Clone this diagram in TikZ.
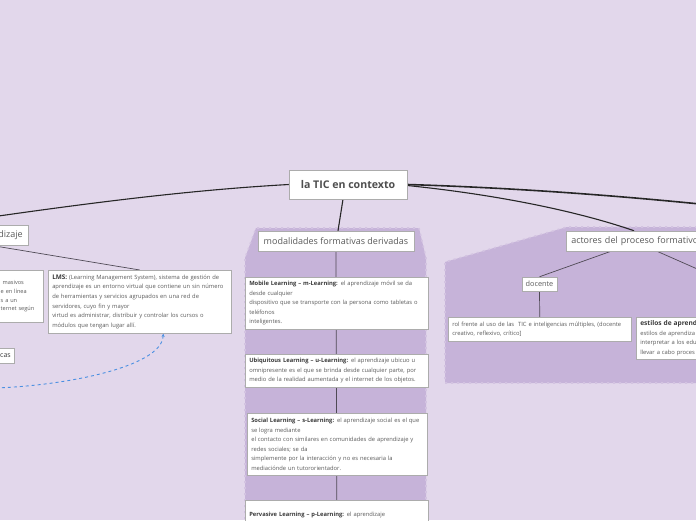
\documentclass[tikz,border=0pt]{standalone}
\usepackage{fontspec}
\setmainfont{Open Sans}
\usetikzlibrary{shadows,arrows.meta}
\definecolor{bgc}{HTML}{E2D7EB}
\definecolor{regc}{HTML}{C6B3D9}
\definecolor{txt}{HTML}{5A5A5A}
\definecolor{txtb}{HTML}{3A3A3A}
\definecolor{lnc}{HTML}{4F4A55}
\definecolor{blu}{HTML}{4A8FE2}
\pgfdeclarelayer{bg}
\pgfdeclarelayer{lines}
\pgfsetlayers{bg,lines,main}
\begin{document}
\begin{tikzpicture}[x=1pt,y=-1pt,
  box/.style={draw=gray!65, fill=white, line width=0.5pt,
    drop shadow={shadow xshift=0.7pt, shadow yshift=-0.9pt, opacity=0.35},
    inner xsep=5pt, inner ysep=3pt, text=txt},
  notebox/.style={box, anchor=north west, align=left, inner xsep=4pt,
    font=\fontsize{5.8}{9.6}\selectfont},
  topicbox/.style={box, font=\fontsize{9}{10}\selectfont, minimum height=20pt, inner ysep=0pt},
  conn/.style={draw=lnc, line width=0.7pt},
  rootconn/.style={draw=black!85, line width=1.1pt},
  region/.style={fill=regc},
  regionedge/.style={draw=regc!55!bgc, line width=1.6pt, dash pattern=on 2pt off 4pt}
]
\useasboundingbox (0,0) rectangle (696,520);
\begin{pgfonlayer}{bg}
  \fill[bgc] (0,0) rectangle (696,520);
  \path[region] (245,525) -- (245,258) -- (256,228) -- (419,228) -- (426,258) -- (426,525) -- cycle;
  \path[regionedge] (245,525) -- (245,258) -- (256,228) -- (419,228) -- (426,258) -- (426,525);
  \path[region] (445,383) -- (445,262) -- (567,227) -- (705,227) -- (705,383) -- cycle;
  \path[regionedge] (705,383) -- (445,383) -- (445,262) -- (567,227) -- (705,227);
\end{pgfonlayer}

% root
\node[box, font=\bfseries\fontsize{10.6}{12}\selectfont, text=txtb!90, minimum width=118pt, minimum height=29pt, inner sep=0pt] (root) at (348,184.5) {la TIC en contexto};

% left side
\node[topicbox, anchor=east] (apr) at (28,235) {dizaje};
\node[box, anchor=east, font=\fontsize{7}{8}\selectfont, text=txtb, minimum height=15pt, inner ysep=0pt, inner xsep=3pt] (cas) at (14,356) {cas};
\node[notebox, anchor=north east, text width=40pt, inner xsep=2pt, minimum height=52pt, font=\fontsize{5.6}{8.8}\selectfont] (mooc) at (43,270)
  {\ masivos\\e en línea\\s a un\\ternet según};
\node[notebox, text width=175pt, minimum height=63pt] (lms) at (48,270)
  {{\bfseries\fontsize{6.4}{9.6}\selectfont\color{txtb}LMS:} (Learning Management System), sistema de gestión de\\
   aprendizaje es un entorno virtual que contiene un sin número\\
   de herramientas y servicios agrupados en una red de\\
   servidores, cuyo fin y mayor\\
   virtud es administrar, distribuir y controlar los cursos o\\
   módulos que tengan lugar allí.};

% middle
\node[topicbox, minimum width=156pt] (mod) at (336,241) {modalidades formativas derivadas};
\node[notebox, text width=175pt, minimum height=52pt] (mob) at (245,277)
  {{\bfseries\color{txtb}Mobile Learning – m-Learning:} el aprendizaje móvil se da\\
   desde cualquier\\
   dispositivo que se transporte con la persona como tabletas o\\
   teléfonos\\
   inteligentes.};
\node[notebox, text width=175pt, minimum height=33pt] (ubi) at (245,354)
  {{\bfseries\color{txtb}Ubiquitous Learning – u-Learning:} el aprendizaje ubicuo u\\
   omnipresente es el que se brinda desde cualquier parte, por\\
   medio de la realidad aumentada y el internet de los objetos.};
\node[notebox, text width=172pt, minimum height=62pt] (soc) at (247,413)
  {{\bfseries\color{txtb}Social Learning – s-Learning:} el aprendizaje social es el que\\
   se logra mediante\\
   el contacto con similares en comunidades de aprendizaje y\\
   redes sociales; se da\\
   simplemente por la interacción y no es necesaria la\\
   mediaciónde un tutororientador.};
\node[notebox, text width=175pt, minimum height=40pt] (per) at (245,500)
  {{\bfseries\color{txtb}Pervasive Learning – p-Learning:} el aprendizaje\\
   personalizado le brinda};

% right
\node[topicbox, anchor=west, minimum width=160pt, align=left, text width=150pt] (act) at (566,241) {actores del proceso formativo};
\node[box, font=\fontsize{7.3}{8}\selectfont, minimum width=35pt, minimum height=14pt, inner sep=0pt] (doc) at (539.5,284) {docente};
\node[notebox, text width=175pt, minimum height=24pt] (rol) at (448,317)
  {rol frente al uso de las\ \ TIC e inteligencias múltiples, (docente\\
   creativo, reflexivo, crítico]};
\node[notebox, text width=90pt, minimum height=42pt] (est) at (636,317)
  {{\bfseries\fontsize{6.6}{9.6}\selectfont\color{txtb}estilos de aprend}\\
   estilos de aprendiza\\
   interpretar a los edu\\
   llevar a cabo proces};

% connectors
\coordinate (offL) at (-5,216.5);
\coordinate (offR) at (705,204.5);
\coordinate (offA) at (-20,243.5);
\coordinate (offB) at (-5,388);
\coordinate (offC) at (720,279);
\begin{pgfonlayer}{lines}
  \path[rootconn] (root.west) .. controls (190,190) and (90,203) .. (offL);
  \path[rootconn, line width=1.6pt] (root.east) .. controls (520,188) and (620,196) .. (offR);
  \path[rootconn] ([yshift=-1pt]root.east) .. controls (500,195) and (580,212) .. ([xshift=-2pt]act.north west -| 636,0);
  \path[rootconn] ([xshift=-5pt]root.south) -- ([xshift=2pt]mod.north);
  \path[conn] (offA) -- (lms.north);
  \path[draw=blu, line width=0.9pt, dashed, {Stealth[length=3.5pt,width=3pt]}-] ([xshift=23.5pt]lms.south) .. controls (162,368) and (60,386) .. (offB);
  \path[conn] (mod.south) -- (per.north);
  \path[conn] ([xshift=45pt]act.south west) -- (doc.north);
  \path[conn] ([xshift=91pt]act.south west) -- (offC);
  \path[conn] (doc.south) -- (rol.north);
\end{pgfonlayer}
\end{tikzpicture}
\end{document}
